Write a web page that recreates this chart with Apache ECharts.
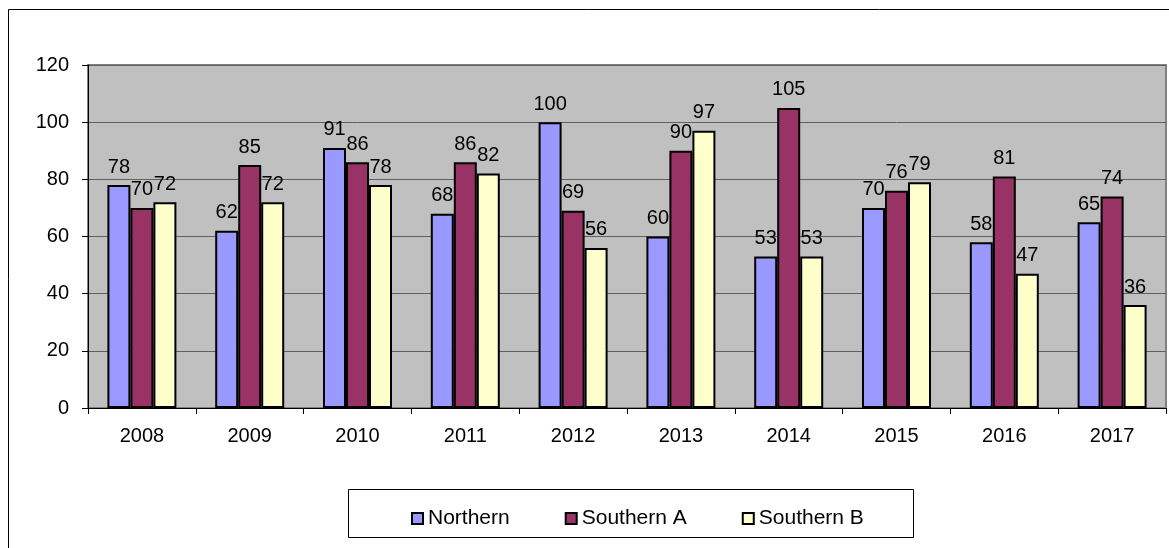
<!DOCTYPE html>
<html>
<head>
<meta charset="utf-8">
<script src="https://cdn.jsdelivr.net/npm/echarts@6/dist/echarts.min.js"></script>
<style>
  html, body { margin: 0; padding: 0; background: #fff; }
  #chart { width: 1169px; height: 548px; }
</style>
</head>
<body>
<div id="chart"></div>
<script>
// Yearly figures for three regions
const years = ['2008', '2009', '2010', '2011', '2012', '2013', '2014', '2015', '2016', '2017'];
const northern = [78, 62, 91, 68, 100, 60, 53, 70, 58, 65];
const southernA = [70, 85, 86, 86, 69, 90, 105, 76, 81, 74];
const southernB = [72, 72, 78, 82, 56, 97, 53, 79, 47, 36];
const seriesNames = ['Northern', 'Southern A', 'Southern B'];
const yTicks = { min: 0, max: 120, step: 20 };

const FONT = '"Liberation Sans", Arial, sans-serif';
const colors = ['#9999FF', '#993366', '#FFFFCC'];

function barSeries(name, values, color) {
  return {
    name: name,
    type: 'bar',
    data: values,
    barWidth: 23,
    barGap: '0%',
    itemStyle: { color: color, borderColor: '#000', borderWidth: 2 },
    label: {
      show: true,
      position: 'top',
      distance: 8,
      color: '#000',
      fontFamily: FONT,
      fontSize: 20
    }
  };
}

const chart = echarts.init(document.getElementById('chart'), null, { renderer: 'canvas' });
chart.setOption({
  animation: false,
  backgroundColor: '#fff',
  textStyle: { fontFamily: FONT },
  grid: {
    left: 88, right: 3, top: 65, bottom: 140,
    show: true,
    backgroundColor: '#C0C0C0',
    borderColor: '#808080',
    borderWidth: 2
  },
  xAxis: {
    type: 'category',
    data: years,
    axisLine: { show: true, lineStyle: { color: '#000', width: 1 } },
    axisTick: { show: true, length: 6, lineStyle: { color: '#000' } },
    axisLabel: { color: '#000', fontSize: 20, fontFamily: FONT, margin: 18 },
    splitLine: { show: false }
  },
  yAxis: {
    type: 'value',
    min: yTicks.min,
    max: yTicks.max,
    interval: yTicks.step,
    axisLine: { show: true, lineStyle: { color: '#000', width: 1 } },
    axisTick: { show: true, length: 6, lineStyle: { color: '#000' } },
    axisLabel: { color: '#000', fontSize: 20, fontFamily: FONT, margin: 19 },
    splitLine: { show: true, lineStyle: { color: '#606060', width: 1 } }
  },
  legend: {
    left: 406,
    top: 503,
    itemWidth: 11,
    itemHeight: 11,
    itemGap: 55,
    icon: 'rect',
    textStyle: { color: '#000', fontSize: 21, fontFamily: FONT },
    data: seriesNames
  },
  graphic: [
    {
      type: 'rect',
      silent: true,
      shape: { x: 8.5, y: 9.5, width: 1300, height: 700 },
      style: { fill: null, stroke: '#000', lineWidth: 1 }
    },
    {
      type: 'rect',
      silent: true,
      shape: { x: 348.5, y: 489.5, width: 565, height: 48 },
      style: { fill: '#fff', stroke: '#000', lineWidth: 1 },
      z: -1
    }
  ],
  series: [
    barSeries(seriesNames[0], northern, colors[0]),
    barSeries(seriesNames[1], southernA, colors[1]),
    barSeries(seriesNames[2], southernB, colors[2])
  ]
});
</script>
</body>
</html>
